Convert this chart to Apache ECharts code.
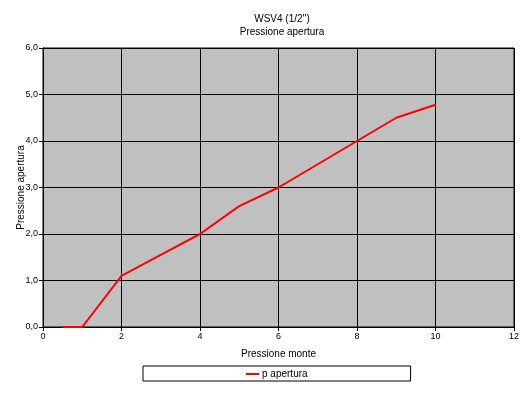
<!DOCTYPE html>
<html><head><meta charset="utf-8">
<script src="https://cdn.jsdelivr.net/npm/echarts@6/dist/echarts.min.js"></script>
<style>html,body{margin:0;padding:0;background:#fff}#c{width:529px;height:393px}</style>
</head><body><div id="c"></div>
<script>
const xValues = [0.5, 1, 2, 3, 4, 5, 6, 7, 8, 9, 10];
const yValues = [0, 0, 1.1, 1.55, 2.0, 2.6, 3.0, 3.5, 4.0, 4.5, 4.78];
const seriesName = 'p apertura';
const titleLines = ['WSV4 (1/2\'\')', 'Pressione apertura'];
const xAxisName = 'Pressione monte';
const yAxisName = 'Pressione apertura';

const font = 'Liberation Sans, Arial, sans-serif';
const chart = echarts.init(document.getElementById('c'), null, {renderer: 'canvas'});
chart.setOption({
  backgroundColor: '#fff',
  animation: false,
  title: {
    text: titleLines.join('\n'),
    left: 277, textAlign: 'center', top: 8,
    textStyle: {fontFamily: font, fontSize: 10, fontWeight: 'normal', color: '#000', lineHeight: 13}
  },
  grid: {left: 43, right: 15, top: 48, bottom: 66, outerBoundsMode: 'none', containLabel: false,
    show: true, backgroundColor: '#C0C0C0', borderColor: '#000', borderWidth: 1},
  legend: {
    left: 143, top: 366, padding: [3, 103, 2, 103],
    borderColor: '#000', borderWidth: 1, borderRadius: 0,
    icon: 'rect', itemWidth: 13, itemHeight: 2,
    textStyle: {fontFamily: font, fontSize: 10, color: '#000', padding: [0,0,0,-2]},
    data: [seriesName]
  },
  xAxis: {
    type: 'value', min: 0, max: 12, interval: 2,
    name: xAxisName, nameLocation: 'middle', nameGap: 22,
    nameTextStyle: {fontFamily: font, fontSize: 10, color: '#000'},
    axisLine: {show: true, lineStyle: {color: '#000', width: 1}},
    axisTick: {show: true, length: 4, lineStyle: {color: '#000'}},
    axisLabel: {fontFamily: font, fontSize: 9, color: '#000', margin: 5},
    splitLine: {show: true, lineStyle: {color: '#000', width: 1}}
  },
  yAxis: {
    type: 'value', min: 0, max: 6, interval: 1,
    name: yAxisName, nameLocation: 'middle', nameGap: 17, nameMoveOverlap: false,
    nameTextStyle: {fontFamily: font, fontSize: 10, color: '#000'},
    axisLine: {show: true, lineStyle: {color: '#000', width: 1}},
    axisTick: {show: true, length: 4, lineStyle: {color: '#000'}},
    axisLabel: {fontFamily: font, fontSize: 9, color: '#000', margin: 5,
      formatter: v => v.toFixed(1).replace('.', ',')},
    splitLine: {show: true, lineStyle: {color: '#000', width: 1}}
  },
  series: [{
    name: seriesName, type: 'line', symbol: 'none',
    lineStyle: {color: '#FF0000', width: 2},
    itemStyle: {color: '#FF0000'},
    data: xValues.map((x, i) => [x, yValues[i]])
  }]
});
</script></body></html>
